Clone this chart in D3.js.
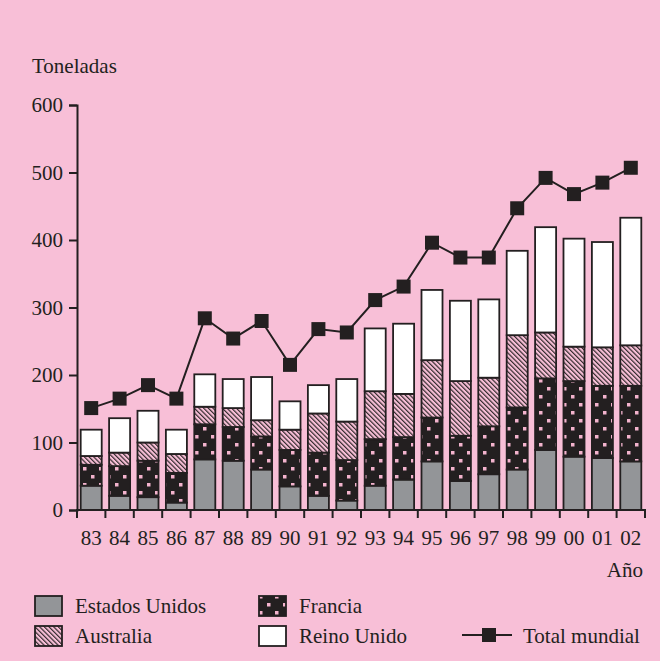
<!DOCTYPE html>
<html>
<head>
<meta charset="utf-8">
<script src="https://cdn.jsdelivr.net/npm/d3@7"></script>
<style>
  body { margin: 0; background: #f8bfd7; }
  text { font-family: "Liberation Serif", "Tinos", "Times New Roman", "DejaVu Serif", serif; fill: #231f20; }
</style>
</head>
<body>
<div class="chart"></div>
<script>
const years = ["83", "84", "85", "86", "87", "88", "89", "90", "91", "92",
  "93", "94", "95", "96", "97", "98", "99", "00", "01", "02"]
const estadosUnidos = [36, 21, 19, 11, 75, 73, 60, 35, 21, 14, 36, 45, 72, 43, 53, 60, 89, 79, 77, 72]
const francia = [31, 44, 54, 44, 52, 50, 49, 54, 64, 60, 69, 63, 65, 67, 71, 92, 106, 112, 107, 112]
const australia = [13, 20, 27, 28, 26, 28, 24, 30, 58, 57, 71, 64, 85, 81, 72, 107, 68, 51, 57, 60]
const reinoUnido = [39, 51, 47, 36, 48, 43, 64, 42, 42, 63, 93, 104, 104, 119, 116, 125, 156, 160, 156, 189]
const totalMundial = [151, 165, 185, 165, 284, 254, 280, 215, 268, 263, 311, 331, 396, 374, 374, 447, 492, 468, 485, 507]
const yTicks = [0, 100, 200, 300, 400, 500, 600]

const svgWidth = 660
const svgHeight = 661
const pink = "#f8bfd7"
const dark = "#231f20"
const fontSize = 21

let svg = d3.select(".chart")
  .append("svg")
  .attr("width", svgWidth)
  .attr("height", svgHeight)

svg.append("rect")
  .attr("width", svgWidth)
  .attr("height", svgHeight)
  .attr("fill", pink)

// patterns
let defs = svg.append("defs")

let dots = defs.append("pattern")
  .attr("id", "dots")
  .attr("patternUnits", "userSpaceOnUse")
  .attr("width", 16)
  .attr("height", 16)
dots.append("rect").attr("width", 16).attr("height", 16).attr("fill", dark)
dots.append("rect").attr("x", 3).attr("y", 3).attr("width", 3.5).attr("height", 3.5).attr("fill", "#f3b3cd")
dots.append("rect").attr("x", 11).attr("y", 11).attr("width", 3.5).attr("height", 3.5).attr("fill", "#f3b3cd")

let hatch = defs.append("pattern")
  .attr("id", "hatch")
  .attr("patternUnits", "userSpaceOnUse")
  .attr("width", 3.3)
  .attr("height", 10)
  .attr("patternTransform", "rotate(-45)")
hatch.append("rect").attr("width", 3.3).attr("height", 10).attr("fill", pink)
hatch.append("line")
  .attr("x1", 0.6).attr("y1", 0).attr("x2", 0.6).attr("y2", 10)
  .attr("stroke", dark).attr("stroke-width", 1.1)

let series = [
  { key: "eu", values: estadosUnidos, fill: "#939598", label: "Estados Unidos" },
  { key: "fr", values: francia, fill: "url(#dots)", label: "Francia" },
  { key: "au", values: australia, fill: "url(#hatch)", label: "Australia" },
  { key: "ru", values: reinoUnido, fill: "#ffffff", label: "Reino Unido" }
]

let table = years.map((y, i) => {
  let row = { year: y }
  series.forEach(s => { row[s.key] = s.values[i] })
  return row
})

let stacked = d3.stack().keys(series.map(s => s.key))(table)

let x = d3.scaleBand()
  .domain(years)
  .range([77, 645])
  .paddingInner(0.26)
  .paddingOuter(0.13)

let y = d3.scaleLinear()
  .domain([0, 600])
  .range([510, 105])

// bars
stacked.forEach((layer, li) => {
  svg.append("g")
    .selectAll("rect")
    .data(layer)
    .enter()
    .append("rect")
    .attr("x", d => x(d.data.year))
    .attr("width", x.bandwidth())
    .attr("y", d => y(d[1]))
    .attr("height", d => y(d[0]) - y(d[1]))
    .attr("fill", series[li].fill)
    .attr("stroke", dark)
    .attr("stroke-width", 1.8)
})

// axes
let leftAxis = d3.axisLeft(y).tickValues(yTicks).tickSize(8).tickPadding(6)
let yAxis = svg.append("g")
  .attr("transform", "translate(77, 0)")
  .call(leftAxis)
yAxis.attr("font-family", null)
yAxis.select(".domain").attr("stroke", dark).attr("stroke-width", 2)
yAxis.selectAll(".tick line").attr("stroke", dark).attr("stroke-width", 2)
yAxis.selectAll("text").attr("font-size", fontSize).attr("fill", dark)

let xAxisG = svg.append("g")
xAxisG.append("line")
  .attr("x1", 76).attr("x2", 646)
  .attr("y1", 510).attr("y2", 510)
  .attr("stroke", dark).attr("stroke-width", 2)
let step = x.step()
let bounds = d3.range(years.length + 1).map(i => x.range()[0] + i * step)
xAxisG.selectAll(".xtick")
  .data(bounds)
  .enter()
  .append("line")
  .attr("x1", d => d).attr("x2", d => d)
  .attr("y1", 510).attr("y2", 518)
  .attr("stroke", dark).attr("stroke-width", 2)
xAxisG.selectAll(".xlabel")
  .data(years)
  .enter()
  .append("text")
  .attr("x", d => x(d) + x.bandwidth() / 2)
  .attr("y", 545)
  .attr("text-anchor", "middle")
  .attr("font-size", fontSize)
  .text(d => d)

// total line
let line = d3.line()
  .x((d, i) => x(years[i]) + x.bandwidth() / 2)
  .y(d => y(d))

svg.append("path")
  .datum(totalMundial)
  .attr("d", line)
  .attr("fill", "none")
  .attr("stroke", dark)
  .attr("stroke-width", 2)

svg.append("g")
  .selectAll("rect")
  .data(totalMundial)
  .enter()
  .append("rect")
  .attr("x", (d, i) => x(years[i]) + x.bandwidth() / 2 - 7)
  .attr("y", d => y(d) - 7)
  .attr("width", 14)
  .attr("height", 14)
  .attr("fill", dark)

// labels
svg.append("text").attr("x", 32).attr("y", 73).attr("font-size", fontSize).text("Toneladas")
svg.append("text").attr("x", 643).attr("y", 577).attr("text-anchor", "end").attr("font-size", fontSize).text("Año")

// legend
let legendPos = [[35, 596], [259, 596], [35, 626], [259, 626]]
series.forEach((s, i) => {
  let [lx, ly] = legendPos[i]
  svg.append("rect")
    .attr("x", lx).attr("y", ly)
    .attr("width", 27).attr("height", 20)
    .attr("fill", s.fill)
    .attr("stroke", dark)
    .attr("stroke-width", 1.8)
  svg.append("text")
    .attr("x", lx + 40).attr("y", ly + 17)
    .attr("font-size", fontSize)
    .text(s.label)
})

svg.append("line")
  .attr("x1", 462).attr("x2", 512)
  .attr("y1", 635).attr("y2", 635)
  .attr("stroke", dark).attr("stroke-width", 2)
svg.append("rect")
  .attr("x", 482).attr("y", 628)
  .attr("width", 14).attr("height", 14)
  .attr("fill", dark)
svg.append("text").attr("x", 523).attr("y", 643).attr("font-size", fontSize).text("Total mundial")
</script>
</body>
</html>
